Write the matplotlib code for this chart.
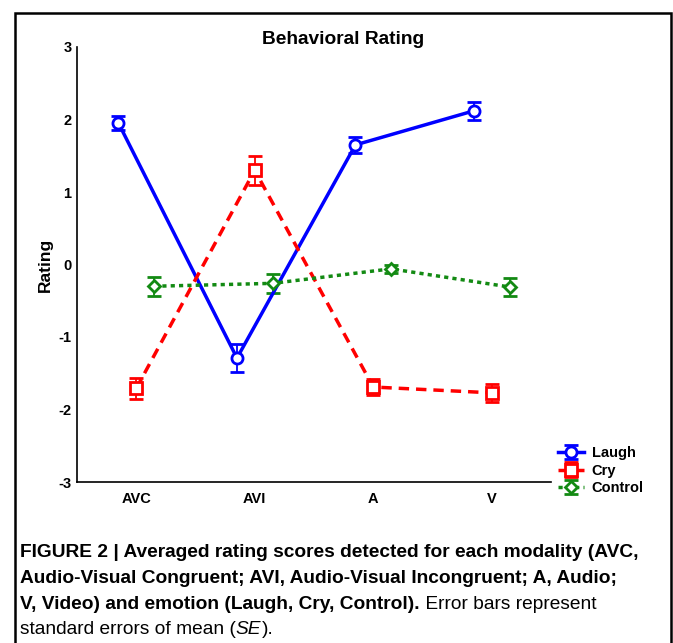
import numpy as np
import matplotlib
matplotlib.use('Agg')
import matplotlib.pyplot as plt
from matplotlib.patches import Rectangle

# data
modalities = ['AVC', 'AVI', 'A', 'V']
laugh = [1.95, -1.29, 1.65, 2.12]
laugh_se = [0.10, 0.19, 0.11, 0.12]
cry = [-1.71, 1.30, -1.69, -1.77]
cry_se = [0.14, 0.20, 0.11, 0.12]
control = [-0.30, -0.26, -0.06, -0.31]
control_se = [0.13, 0.13, 0.06, 0.12]

W, H = 673, 643
plt.rcParams['font.family'] = ['Liberation Sans', 'DejaVu Sans']

fig = plt.figure(figsize=(W / 100, H / 100), dpi=100)
ax = fig.add_axes([77 / W, 1 - 482 / H, (551 - 77) / W, (482 - 47) / H])

x = np.arange(len(modalities))
series = [
    ('Laugh', laugh, laugh_se, '#0000ff', 'o', '-', -0.15, 8),
    ('Cry', cry, cry_se, '#ff0000', 's', (0, (3, 2)), 0.0, 8),
    ('Control', control, control_se, '#138a13', 'D', (0, (1.2, 1.2)), 0.15, 6),
]
for name, vals, se, col, mk, ls, off, ms in series:
    ax.errorbar(x + off, vals, yerr=se, color=col, linestyle=ls, linewidth=2.5,
                marker=mk, markersize=ms, markerfacecolor='white',
                markeredgecolor=col, markeredgewidth=2,
                ecolor=col, elinewidth=1.3, capsize=5, capthick=1.3,
                label=name)

ax.set_xlim(-0.5, 3.5)
ax.set_ylim(-3, 3)
ax.set_xticks(x)
ax.set_xticklabels(modalities)
ax.set_yticks([-3, -2, -1, 0, 1, 2, 3])
ax.set_yticklabels(['-3', '-2', '-1', '0', '1', '2', '3'])
ax.tick_params(length=0, labelsize=10.5)
ax.tick_params(axis='y', pad=4)
ax.tick_params(axis='x', pad=7)
for lab in ax.get_xticklabels() + ax.get_yticklabels():
    lab.set_fontweight('bold')
for s in ['top', 'right']:
    ax.spines[s].set_visible(False)
ax.spines['left'].set_linewidth(1.2)
ax.spines['bottom'].set_linewidth(1.2)
ax.set_ylabel('Rating', fontsize=12.5, fontweight='bold')
ax.yaxis.set_label_coords((53 - 77) / 474, 0.5)

fig.text(343 / W, 1 - 40 / H, 'Behavioral Rating', ha='center', va='center',
         fontsize=13.8, fontweight='bold')

leg = fig.legend(loc='upper left', bbox_to_anchor=(558 / W, 1 - 446 / H),
                 frameon=False, prop={'weight': 'bold', 'size': 10.5},
                 handlelength=1.8, handletextpad=0.5, labelspacing=0.25,
                 borderaxespad=0, borderpad=0)

# outer frame
fig.add_artist(Rectangle((15 / W, -0.01), (671 - 15) / W, (H - 13) / H + 0.01,
                         transform=fig.transFigure, fill=False,
                         edgecolor='black', linewidth=1.8))

# caption
cap = dict(fontsize=13.8)
x0 = 20 / W
fig.text(x0, 1 - 557 / H,
         'FIGURE 2 | Averaged rating scores detected for each modality (AVC,',
         va='baseline', fontweight='bold', **cap)
fig.text(x0, 1 - 583 / H,
         'Audio-Visual Congruent; AVI, Audio-Visual Incongruent; A, Audio;',
         va='baseline', fontweight='bold', **cap)
t3 = fig.text(x0, 1 - 609 / H, 'V, Video) and emotion (Laugh, Cry, Control).',
              va='baseline', fontweight='bold', **cap)
ax.annotate(' Error bars represent', xy=(1, 0), xycoords=t3, va='bottom',
            annotation_clip=False, **cap)
t4 = fig.text(x0, 1 - 634 / H, 'standard errors of mean (', va='baseline', **cap)
t5 = ax.annotate('SE', xy=(1, 0), xycoords=t4, va='bottom', style='italic',
                 annotation_clip=False, **cap)
ax.annotate(').', xy=(1, 0), xycoords=t5, va='bottom', annotation_clip=False, **cap)

fig.savefig('out.png', dpi=100)
